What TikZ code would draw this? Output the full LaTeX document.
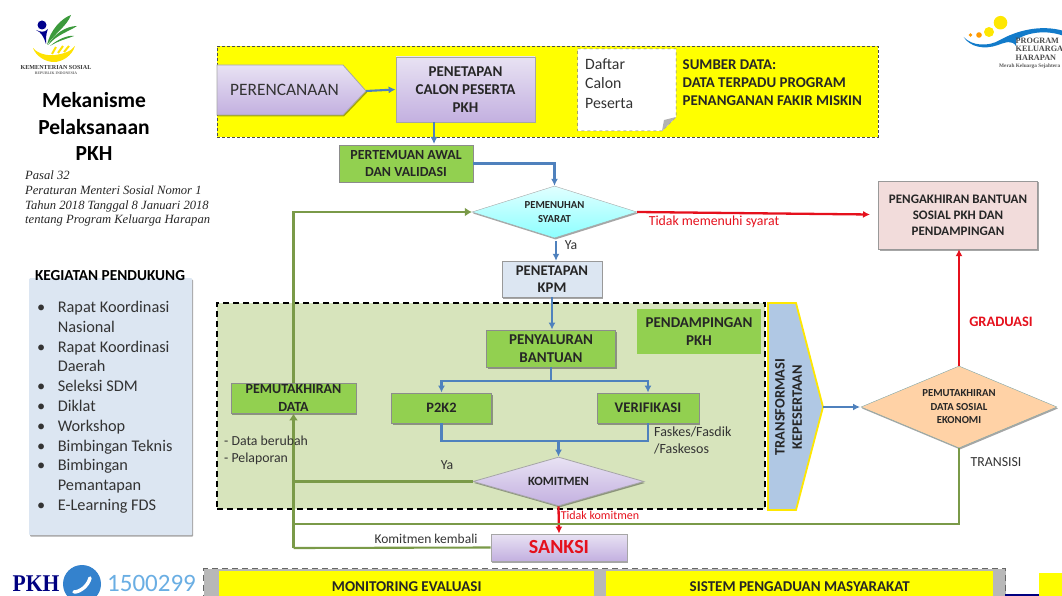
\documentclass[tikz,border=0pt]{standalone}
\usepackage{fontspec}
\setmainfont{Carlito}
\newfontfamily\serifface{Liberation Serif}
\usetikzlibrary{arrows.meta,shapes.geometric,shadows}
\definecolor{pkhblue}{HTML}{4F81BD}
\definecolor{pkhgreen}{HTML}{92D050}
\definecolor{pkholive}{HTML}{7A9A48}
\definecolor{pkhred}{HTML}{E5101C}
\definecolor{pkhpale}{HTML}{D7E4BC}
\definecolor{pkhpanel}{HTML}{DCE6F2}
\definecolor{pkhtext}{HTML}{333333}
\definecolor{pkhyellow}{HTML}{FFFF00}
\definecolor{pkhlilac}{HTML}{E8E2F3}
\definecolor{pkhviolet}{HTML}{C3B0E0}
\definecolor{pkhpink}{HTML}{F2DCDB}
\definecolor{pkhsteel}{HTML}{B0C8E4}
\definecolor{pkhleaf}{HTML}{3C9A3C}
\begin{document}
\begin{tikzpicture}[x=1pt,y=-1pt,
    shade/.style={drop shadow={shadow xshift=1pt,shadow yshift=-1.5pt,opacity=.35,fill=black}},
    lbl/.style={font=\fontsize{15}{17.5}\selectfont\bfseries, text=black!85, align=center, inner sep=0pt},
    plain/.style={font=\fontsize{13.8}{17}\selectfont, text=pkhtext, align=left, inner sep=0pt},
    greenbox/.style={lbl, shade, draw=black!45, line width=.8pt, fill=pkhgreen},
    purplebox/.style={lbl, shade, draw=black!35, line width=.8pt, top color=pkhlilac, bottom color=pkhviolet},
    bluearrow/.style={draw=pkhblue, line width=2.1pt, -{Latex[length=7pt,width=7pt]}},
    blueline/.style={draw=pkhblue, line width=2.1pt},
    greenarrow/.style={draw=pkholive, line width=2.1pt, -{Latex[length=7pt,width=9pt]}},
    greenline/.style={draw=pkholive, line width=2.1pt},
    redarrow/.style={draw=pkhred, line width=2.3pt, -{Latex[length=7pt,width=7pt]}}]
    \useasboundingbox (0,0) rectangle (1062,596);

    % regions
    \node [draw=black!70, dash pattern=on 3pt off 2pt, line width=.7pt, fill=pkhyellow, minimum width=661, minimum height=91, inner sep=0pt] (planregion) at (547.5,91.5) {};
    \node [draw=black, dash pattern=on 6pt off 4pt, line width=1.3pt, fill=pkhpale, minimum width=548, minimum height=206, inner sep=0pt] (pkhregion) at (491,406) {};
    \node [draw=black!60, dash pattern=on 6pt off 4pt, line width=1pt, fill=black!28, minimum width=802, minimum height=40, inner sep=0pt, anchor=north west] (bottomregion) at (203,568) {};
    \node [fill=pkhpanel, shade, rounded corners=1pt, minimum width=163, minimum height=257, inner sep=0pt, anchor=north west] (panel) at (29,278) {};

    % kementerian logo
    \fill [blue!55!black] (42,25) circle (4.5);
    \fill [blue!55!black] (36,30) .. controls (41,32) and (44,37) .. (46,44) .. controls (46,38) and (46,33) .. (48,29) .. controls (44,33) and (41,32) .. (36,30) -- cycle;
    \fill [pkhleaf] (47,45) .. controls (50,30) and (62,18) .. (71,15) .. controls (67,26) and (56,32) .. (47,45) -- cycle;
    \fill [pkhleaf] (48,45) .. controls (54,34) and (66,26) .. (77,26) .. controls (68,32) and (58,34) .. (48,45) -- cycle;
    \fill [pkhleaf] (50,46) .. controls (58,39) and (68,35) .. (74,36) .. controls (66,39) and (58,41) .. (50,46) -- cycle;
    \fill [yellow!85!orange] (33,48) .. controls (38,54) and (48,56) .. (55,55) .. controls (62,54) and (71,52) .. (75,46) .. controls (72,56) and (62,62) .. (54,62) .. controls (45,62) and (36,56) .. (33,48) -- cycle;
    \draw [yellow!85!orange, line width=2pt] (52,54) -- (56,47) (58,53) -- (63,46) (64,52) -- (69,46);
    \node [font=\fontsize{6.1}{6}\selectfont\serifface\bfseries, text=black!80, inner sep=0pt] (kemensos) at (56,68) {KEMENTERIAN SOSIAL};
    \node [font=\fontsize{3.8}{4}\selectfont\serifface\bfseries, text=black!60, inner sep=0pt] (republik) at (56,73) {REPUBLIK INDONESIA};

    % keluarga harapan logo
    \fill [orange!80!yellow] (970.5,35) circle (1.8);
    \fill [orange!80!yellow] (979,35) circle (2.8);
    \fill [yellow!90!orange] (989,32) circle (5);
    \fill [yellow!90!orange] (1000.5,22.7) circle (6.8);
    \fill [cyan!60!blue] (963.6,37) .. controls (972,46) and (988,47) .. (1000,40) .. controls (1016,31) and (1040,24) .. (1064,31) -- (1064,36) .. controls (1045,29) and (1026,33) .. (1016,40) -- (1016,46) .. controls (1012,40) and (1006,42) .. (998,45) .. controls (984,50) and (970,47) .. (963.6,37) -- cycle;
    \node [font=\fontsize{8.2}{8.6}\selectfont\serifface\bfseries, text=black!70, align=left, inner sep=0pt, anchor=north west] (programlogo) at (1015.5,37.5) {PROGRAM\\KELUARGA\\HARAPAN};
    \node [font=\fontsize{5.3}{6}\selectfont\serifface\bfseries, text=black!65, inner sep=0pt, anchor=west] (merah) at (999,66) {Merah Keluarga Sejahtera};

    % title
    \node [font=\fontsize{21.5}{26.5}\selectfont\bfseries, align=center, inner sep=0pt] (title) at (94,126.5) {Mekanisme\\Pelaksanaan\\PKH};
    \node [font=\fontsize{12.6}{14.6}\selectfont\serifface\itshape, text=black!85, align=left, inner sep=0pt, anchor=north west] (pasal) at (25,171) {Pasal 32\\Peraturan Menteri Sosial Nomor 1\\Tahun 2018 Tanggal 8 Januari 2018\\tentang Program Keluarga Harapan};
    \node [font=\fontsize{15.3}{17}\selectfont\bfseries, inner sep=0pt] (pendukung) at (110,276) {KEGIATAN PENDUKUNG};
    \node [font=\fontsize{16.3}{19.8}\selectfont, text=pkhtext, inner sep=0pt, anchor=north west] (kegiatan) at (37,298.5) {\begin{tabular}{@{}l@{\hspace{12.5pt}}l@{}}
        \textbullet & Rapat Koordinasi\\
         & Nasional\\
        \textbullet & Rapat Koordinasi\\
         & Daerah\\
        \textbullet & Seleksi SDM\\
        \textbullet & Diklat\\
        \textbullet & Workshop\\
        \textbullet & Bimbingan Teknis\\
        \textbullet & Bimbingan\\
         & Pemantapan\\
        \textbullet & E-Learning FDS
    \end{tabular}};

    % perencanaan
    \path [draw=black!35, line width=.8pt, top color=pkhlilac, bottom color=pkhviolet, shade] (217,65) -- (343,65) -- (366,91) -- (343,115) -- (217,115) -- cycle;
    \coordinate (perencanaantip) at (366,91);
    \node [font=\fontsize{17.4}{20}\selectfont, text=pkhtext, inner sep=0pt] (perencanaan) at (284.5,90) {PERENCANAAN};
    \node [purplebox, minimum width=139, minimum height=65, inner sep=0pt, font=\fontsize{15}{18}\selectfont\bfseries] (penetapan) at (465.5,89.5) {PENETAPAN\\CALON PESERTA\\PKH};
    \path [draw=black!55, dashed, line width=.5pt, fill=white] (577.5,49) -- (676,49) -- (676,117) -- (662,131) -- (577.5,131) -- cycle;
    \path [fill=black!30] (676,117) -- (662,131) -- (664,120) -- cycle;
    \node [plain, font=\fontsize{15.8}{19.6}\selectfont, anchor=north west] (daftar) at (585,58) {Daftar\\Calon\\Peserta};
    \node [lbl, align=left, anchor=north west, font=\fontsize{14.9}{18}\selectfont\bfseries] (sumber) at (682.5,60) {SUMBER DATA:\\DATA TERPADU PROGRAM\\PENANGANAN FAKIR MISKIN};

    \node [greenbox, minimum width=134, minimum height=37, inner sep=0pt, font=\fontsize{13.9}{17}\selectfont\bfseries] (pertemuan) at (406,163.5) {PERTEMUAN AWAL\\DAN VALIDASI};
    \node [lbl, shade, draw=black!35, font=\fontsize{10.7}{13.5}\selectfont\bfseries, shape=diamond, aspect=3.1, minimum width=165, minimum height=52, inner sep=0pt, top color=cyan!12, bottom color=cyan!45] (pemenuhan) at (554.5,212) {PEMENUHAN\\SYARAT};
    \node [lbl, shade, draw=black!40, font=\fontsize{13}{16}\selectfont\bfseries, fill=pkhpink, minimum width=159, minimum height=68, inner sep=0pt] (pengakhiran) at (958,215) {PENGAKHIRAN BANTUAN\\SOSIAL PKH DAN\\PENDAMPINGAN};
    \node [lbl, shade, draw=black!40, font=\fontsize{14.7}{17.5}\selectfont\bfseries, fill=pkhpanel, minimum width=100, minimum height=36, inner sep=0pt] (kpm) at (552,279) {PENETAPAN\\KPM};

    % isi region
    \node [greenbox, minimum width=129, minimum height=37, inner sep=0pt] (penyaluran) at (551,348.5) {PENYALURAN\\BANTUAN};
    \node [lbl, fill=pkhgreen, minimum width=124, minimum height=45, inner sep=0pt] (pendampingan) at (699,331.5) {PENDAMPINGAN\\PKH};
    \node [greenbox, minimum width=125, minimum height=30, inner sep=0pt, font=\fontsize{14}{17.3}\selectfont\bfseries] (pemutakhiran) at (293.5,398) {PEMUTAKHIRAN\\DATA};
    \node [greenbox, minimum width=100, minimum height=30, inner sep=0pt, font=\fontsize{14.4}{17}\selectfont\bfseries] (p2k2) at (441.5,408) {P2K2};
    \node [greenbox, minimum width=102, minimum height=30, inner sep=0pt, font=\fontsize{14.7}{17}\selectfont\bfseries] (verifikasi) at (648,408) {VERIFIKASI};
    \node [purplebox, font=\fontsize{12.6}{13}\selectfont\bfseries, shape=diamond, aspect=3.5, minimum width=171, minimum height=49] (komitmen) at (558.5,481.5) {KOMITMEN};
    \node [purplebox, font=\fontsize{20}{22}\selectfont\bfseries, text=pkhred, minimum width=136, minimum height=27, inner sep=0pt] (sanksi) at (559,547.5) {SANKSI};

    % transformasi
    \path [draw=yellow!90!orange, line width=1.8pt, fill=pkhsteel] (768,303) -- (796,303) -- (823,407) -- (796,510) -- (768,510) -- cycle;
    \coordinate (transformasitip) at (823,407);
    \node [lbl, rotate=90, font=\fontsize{14.4}{17.3}\selectfont\bfseries] (transformasi) at (788.5,407) {TRANSFORMASI\\KEPESERTAAN};
    \node [lbl, shade, draw=teal!60!black!50, font=\fontsize{10.7}{13.5}\selectfont\bfseries, shape=diamond, aspect=2.4, minimum width=196, minimum height=82, inner sep=0pt, fill=orange!35!white] (ekonomi) at (959,407) {PEMUTAKHIRAN\\DATA SOSIAL\\EKONOMI};

    % connectors
    \coordinate (penetapankaki) at (434,122);
    \coordinate (pertemuantarget) at (434,144);
    \coordinate (branchjoin) at (551,381);
    \coordinate (mergejoin) at (558.5,441);
    \coordinate (sanksijoin) at (293.5,548);
    \coordinate (transisijoin) at (293.5,524);
    \coordinate (ekonomitarget) at (860,407);
    \coordinate (syarattarget) at (870,214.5);
    \draw [bluearrow] (perencanaantip) -- (penetapan.west);
    \draw [bluearrow] (penetapankaki) -- (pertemuantarget);
    \draw [bluearrow] (pertemuan.east) -| (pemenuhan.north);
    \draw [bluearrow] (pemenuhan.south) ++(1.5,3) coordinate (yastart) -- (yastart |- kpm.north);
    \draw [bluearrow] (kpm.south) -- (penyaluran.north -| kpm.south);
    \draw [blueline] (penyaluran.south) -- (branchjoin);
    \draw [bluearrow] (branchjoin) -| (p2k2.north);
    \draw [bluearrow] (branchjoin) -| (verifikasi.north);
    \draw [blueline] (p2k2.south) |- (mergejoin) -| (verifikasi.south);
    \draw [bluearrow] (mergejoin) -- (komitmen.north);
    \draw [bluearrow] (transformasitip) -- (ekonomitarget);
    \draw [redarrow] (pemenuhan.east) -- (syarattarget);
    \draw [redarrow] (ekonomi.north) -- (ekonomi.north |- pengakhiran.south);
    \draw [redarrow] (komitmen.south) -- (sanksi.north);
    \draw [greenline] (ekonomi.south) |- (transisijoin);
    \draw [greenline] (komitmen.west) -- (komitmen.west -| sanksijoin);
    \draw [greenline] (sanksi.west) -- (sanksijoin);
    \draw [greenarrow] (sanksijoin) -- (pemutakhiran.south);
    \draw [greenarrow] (pemutakhiran.north) |- (pemenuhan.west);

    % labels
    \node [plain, text=pkhred] (tidakmemenuhi) at (714,222) {Tidak memenuhi syarat};
    \node [plain] (yatop) at (571,245) {Ya};
    \node [plain] (yabawah) at (447,465) {Ya};
    \node [plain, font=\fontsize{14}{16.8}\selectfont, anchor=north west] (faskes) at (654,427) {Faskes/Fasdik\\/Faskesos};
    \node [plain, font=\fontsize{13.8}{16.4}\selectfont, anchor=north west] (databerubah) at (224,436) {- Data berubah\\- Pelaporan};
    \node [plain, text=pkhred, font=\fontsize{12}{13}\selectfont] (tidakkomitmen) at (600,515) {Tidak komitmen};
    \node [plain, font=\fontsize{13.5}{15}\selectfont] (kembali) at (426,539) {Komitmen kembali};
    \node [lbl, text=pkhred, font=\fontsize{14.4}{17}\selectfont\bfseries] (graduasi) at (1001,322) {GRADUASI};
    \node [plain] (transisi) at (996,462) {TRANSISI};

    % bagian bawah
    \node [lbl, fill=pkhyellow, minimum width=375, minimum height=30, inner sep=0pt, anchor=north west] (monev) at (219,571) {MONITORING EVALUASI};
    \node [lbl, fill=pkhyellow, minimum width=387, minimum height=30, inner sep=0pt, anchor=north west] (pengaduan) at (606,571) {SISTEM PENGADUAN MASYARAKAT};
    \node [fill=pkhyellow, minimum width=25, minimum height=30, inner sep=0pt, anchor=north west] (pojok) at (1038.5,573) {};
    \coordinate (garisawal) at (1005,594.5);
    \coordinate (garisakhir) at (1038.5,594.5);
    \draw [blue!50!black, line width=2pt] (garisawal) -- (garisakhir);
    \node [font=\fontsize{24}{26}\selectfont\serifface\bfseries, text=blue!50!black, inner sep=0pt, xscale=.9] (pkhlogo) at (36,584) {PKH};
    \node [fill=cyan!55!blue!85!white, shape=circle, minimum size=38, inner sep=0pt] (telepon) at (82,584) {};
    \draw [white, line width=3.5pt, line cap=round] (74,592) .. controls (80,592) and (88,586) .. (90,578);
    \node [font=\fontsize{25}{28}\selectfont, text=cyan!70!blue!60!white, inner sep=0pt] (nomor) at (151.5,583) {1500299};
\end{tikzpicture}
\end{document}
